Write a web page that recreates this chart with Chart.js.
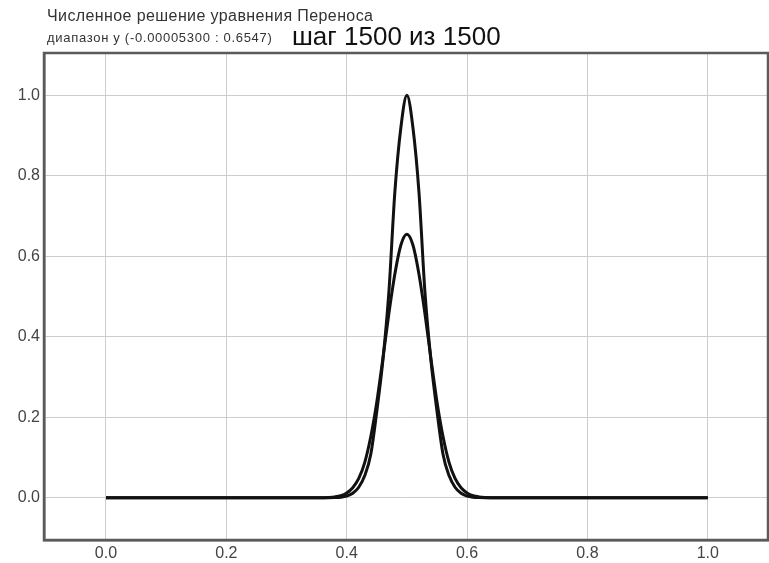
<!DOCTYPE html>
<html>
<head>
<meta charset="utf-8">
<script src="https://cdn.jsdelivr.net/npm/chart.js@4"></script>
<style>
  body { margin: 0; background: #fff; }
  #wrap { position: relative; width: 769px; height: 563px; }
  .t { position: absolute; font-family: "Liberation Sans", Arial, sans-serif; line-height: 1; white-space: nowrap; }
  #title { left: 47px; top: 8px; font-size: 16px; letter-spacing: 0.4px; color: #333; }
  #range { left: 47px; top: 31px; font-size: 13px; letter-spacing: 0.7px; color: #333; }
  #step { left: 292px; top: 23px; font-size: 26px; color: #111; }
</style>
</head>
<body>
<div id="wrap">
  <canvas id="chart" width="769" height="563"></canvas>
  <div class="t" id="title">Численное решение уравнения Переноса</div>
  <div class="t" id="range">диапазон y (-0.00005300 : 0.6547)</div>
  <div class="t" id="step">шаг 1500 из 1500</div>
</div>
<script>
// x positions of the solution samples
const xValues = [0, 0.1, 0.2, 0.3, 0.34,
  0.35, 0.36, 0.37, 0.38, 0.39, 0.40, 0.41, 0.42, 0.43, 0.44,
  0.45, 0.46, 0.47, 0.48, 0.49, 0.50, 0.51, 0.52, 0.53, 0.54, 0.55,
  0.56, 0.57, 0.58, 0.59, 0.60, 0.61, 0.62, 0.63, 0.64, 0.65,
  0.66, 0.7, 0.8, 0.9, 1.0];

// начальный профиль (пик 1.0)
const exactValues = [0, 0, 0, 0, 0,
  0, 0, 0, 0.0003, 0.0012, 0.004, 0.011, 0.026, 0.055, 0.108,
  0.215, 0.34, 0.51, 0.76, 0.92, 1.0, 0.92, 0.76, 0.51, 0.34, 0.215,
  0.108, 0.055, 0.026, 0.011, 0.004, 0.0012, 0.0003, 0, 0, 0,
  0, 0, 0, 0, 0];

// численное решение после 1500 шагов (пик 0.6547)
const numericValues = [0, 0, 0, 0, 0,
  0, 0.0002, 0.0007, 0.002, 0.005, 0.012, 0.025, 0.048, 0.088, 0.152,
  0.238, 0.345, 0.457, 0.556, 0.628, 0.6547, 0.628, 0.556, 0.457, 0.345, 0.238,
  0.152, 0.088, 0.048, 0.025, 0.012, 0.005, 0.002, 0.0007, 0.0002, 0,
  0, 0, 0, 0, 0];

const xTicks = [0, 0.2, 0.4, 0.6, 0.8, 1.0];
const xTickLabels = ['0.0', '0.2', '0.4', '0.6', '0.8', '1.0'];
const yTicks = [0, 0.2, 0.4, 0.6, 0.8, 1.0];
const yTickLabels = ['0.0', '0.2', '0.4', '0.6', '0.8', '1.0'];

const xMin = -0.103, xMax = 1.1;
const yMin = -0.105, yMax = 1.105;

const toPoints = vals => vals.map((v, i) => ({ x: xValues[i], y: v }));

// рамка вокруг области графика
const frame = {
  id: 'frame',
  afterDraw(chart) {
    const a = chart.chartArea;
    const ctx = chart.ctx;
    ctx.save();
    ctx.strokeStyle = '#5a5a5a';
    ctx.lineWidth = 2.5;
    ctx.strokeRect(a.left, a.top, a.right - a.left, a.bottom - a.top);
    ctx.restore();
  }
};

const lineStyle = {
  borderColor: '#111',
  borderWidth: 3,
  pointRadius: 0,
  fill: false,
  cubicInterpolationMode: 'monotone'
};

const tickFont = { family: '"Liberation Sans", Arial, sans-serif', size: 16 };

new Chart(document.getElementById('chart'), {
  type: 'line',
  data: {
    datasets: [
      Object.assign({ label: 'exact', data: toPoints(exactValues) }, lineStyle),
      Object.assign({ label: 'numeric', data: toPoints(numericValues) }, lineStyle)
    ]
  },
  options: {
    responsive: false,
    animation: false,
    layout: { padding: { top: 53, right: 1, left: 0, bottom: 0 } },
    plugins: { legend: { display: false }, tooltip: { enabled: false } },
    scales: {
      x: {
        type: 'linear',
        min: xMin,
        max: xMax,
        afterBuildTicks: s => { s.ticks = xTicks.map(v => ({ value: v })); },
        afterFit: s => { s.height = 23; },
        ticks: {
          padding: 4,
          color: '#444',
          font: tickFont,
          callback: (v, i) => xTickLabels[i]
        },
        grid: { color: '#cdcdcd', drawTicks: false },
        border: { color: '#5a5a5a', width: 2.5 }
      },
      y: {
        min: yMin,
        max: yMax,
        afterBuildTicks: s => { s.ticks = yTicks.map(v => ({ value: v })); },
        afterFit: s => { s.width = 44; },
        ticks: {
          padding: 4,
          color: '#444',
          font: tickFont,
          callback: (v, i) => yTickLabels[i]
        },
        grid: { color: '#cdcdcd', drawTicks: false },
        border: { color: '#5a5a5a', width: 2.5 }
      }
    }
  },
  plugins: [frame]
});
</script>
</body>
</html>
